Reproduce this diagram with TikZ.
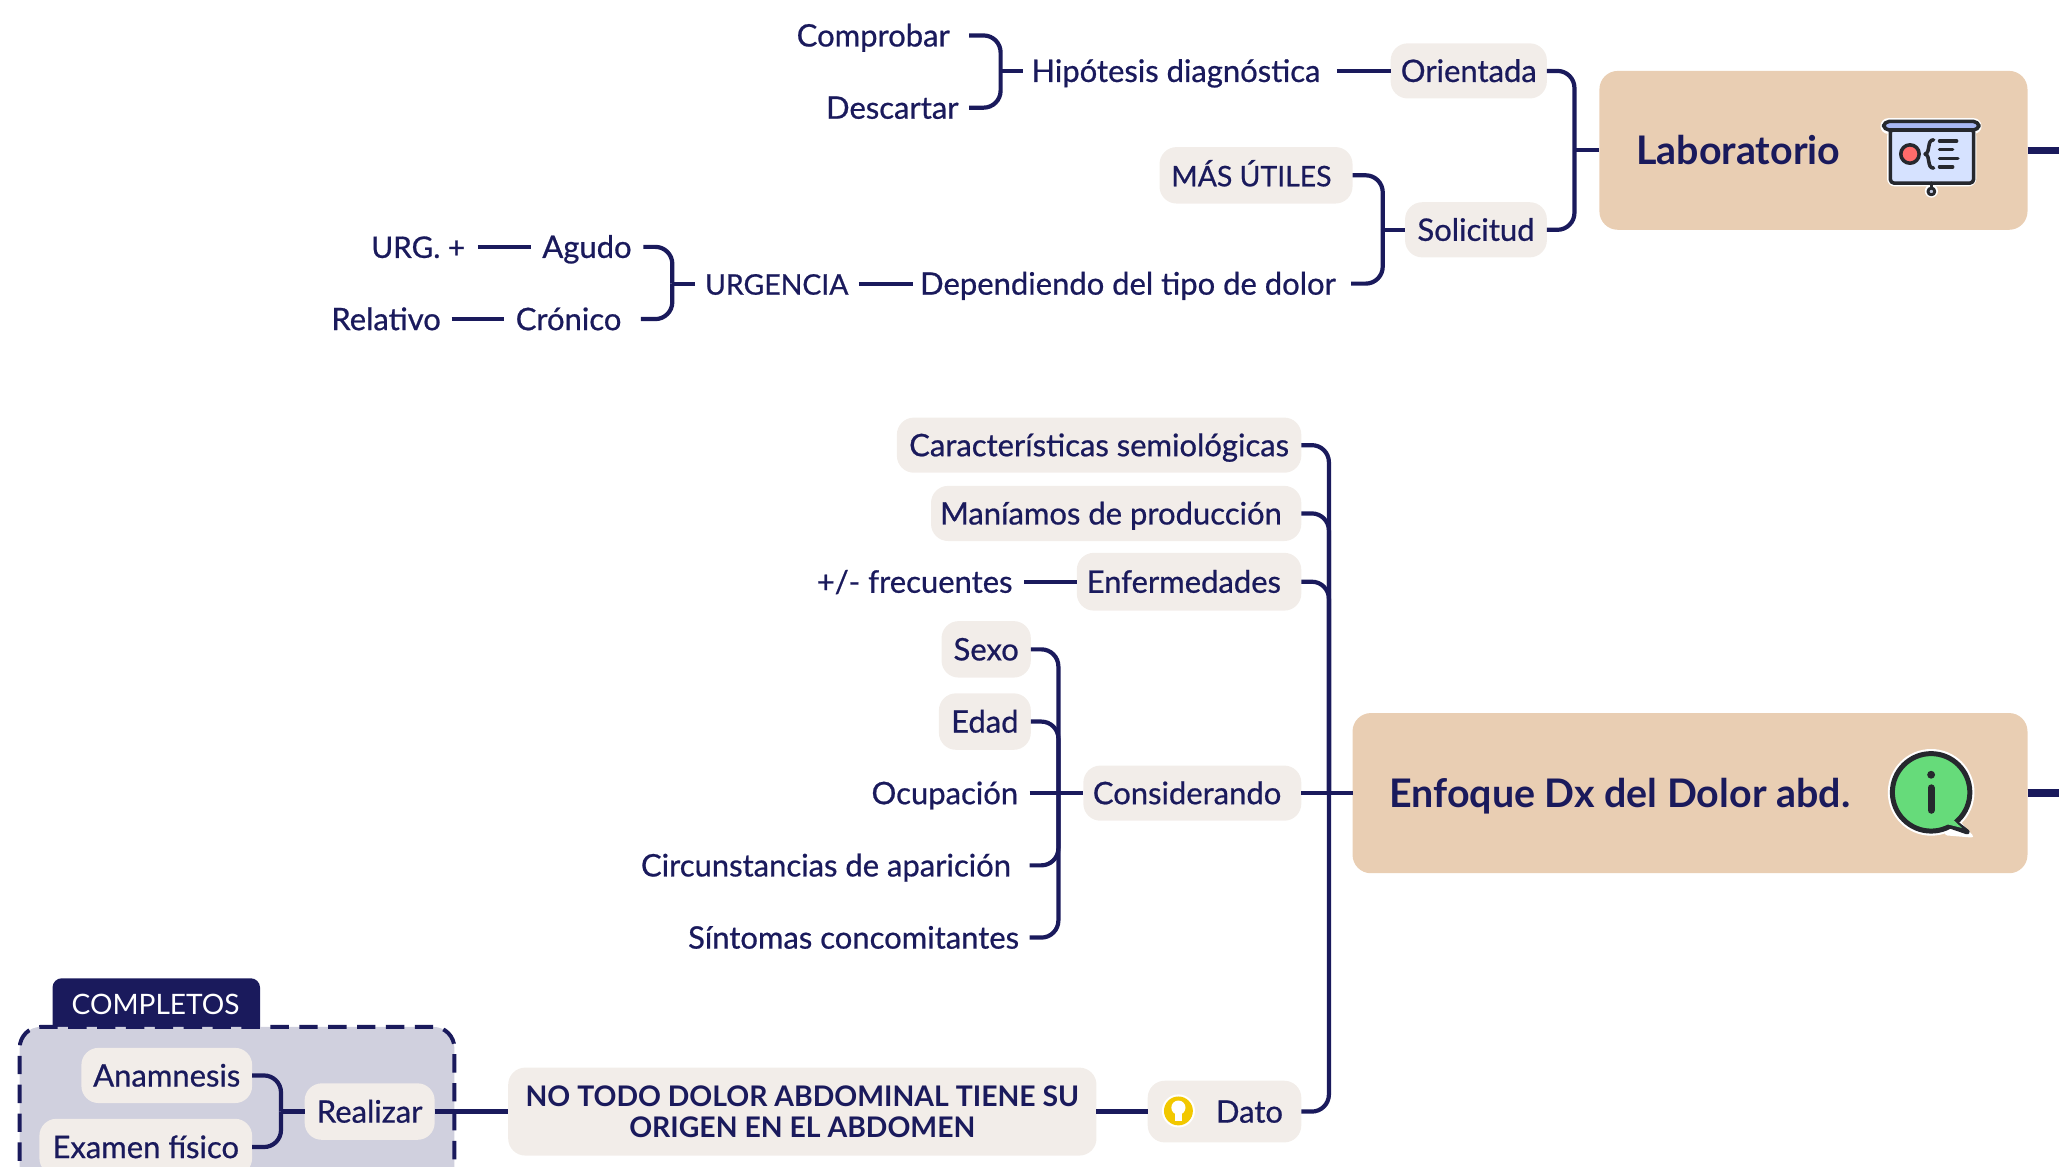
\documentclass[tikz,border=0pt]{standalone}
\usepackage{fontspec}
\setmainfont{Lato}
\newfontfamily\medfont{Lato}[FakeBold=0.7]
\newfontfamily\lightfont{Lato}
\definecolor{navy}{HTML}{1A1A5C}
\definecolor{pillc}{HTML}{F2EDE9}
\definecolor{tan}{HTML}{E9CEB3}
\definecolor{groupc}{HTML}{D0D0DE}
\definecolor{ink}{HTML}{26282E}
\definecolor{screenc}{HTML}{D6E2FF}
\definecolor{barc}{HTML}{A9B8F5}
\definecolor{knobc}{HTML}{BEC8E1}
\definecolor{redc}{HTML}{FF6B6B}
\definecolor{greenc}{HTML}{66DB7A}
\definecolor{yellowc}{HTML}{F2C800}
\newcommand{\bx}[7]{%
  \pgfmathsetmacro\bcx{(#3+#4)/2}\pgfmathsetmacro\bcy{(#5+#6)/2}%
  \pgfmathsetmacro\bw{(#4-#3)/2}\pgfmathsetmacro\bh{(#6-#5)/2}%
  \node[#2,minimum width=\bw pt,minimum height=\bh pt] (#1) at (\bcx,\bcy) {#7};}
\newcommand{\capsize}{\fontsize{10.8}{14}\medfont}
\tikzset{
  x=.5pt,y=-.5pt,
  base/.style={inner sep=0pt,outer sep=0pt,text=navy,font=\fontsize{11.8}{14}\medfont,text height=10pt,text depth=1.6pt,align=center},
  plain/.style={base},
  pill/.style={base,fill=pillc,rounded corners=6.5pt},
  mainbox/.style={base,fill=tan,rounded corners=7pt},
  maintext/.style={base,font=\fontsize{15}{18}\selectfont\bfseries,anchor=west},
  headline/.style={inner sep=0pt,outer sep=0pt,text=navy,align=center,fill=pillc,rounded corners=6.5pt,font=\fontsize{10.8}{12}\selectfont\bfseries},
  conn/.style={draw=navy,line width=1.6pt,rounded corners=6.5pt},
  thick stub/.style={draw=navy,line width=2.8pt},
  icon/.style={draw=ink,line width=1.35pt,line join=round,line cap=round}
}
\begin{document}
\begin{tikzpicture}
\useasboundingbox (0,0) rectangle (1568,888);
\clip (0,0) rectangle (1568,888);
% group
\fill[navy,rounded corners=3.5pt] (40,790) |- (198,745) -- (198,790) -- cycle;
\fill[groupc,rounded corners=8pt] (15,950) |- (346,782) -- (346,950) -- cycle;
\draw[navy,line width=1.5pt,dash pattern=on 7pt off 4pt,rounded corners=8pt] (15,950) |- (346,782) -- (346,950);
\node[inner sep=0pt,text=white,font=\fontsize{10.7}{14}\lightfont,text height=10pt,text depth=1.6pt] (compl) at (118.5,764) {COMPLETOS};
% main boxes
\bx{lab}{mainbox}{1218}{1544}{54}{175}{}
\bx{enf}{mainbox}{1030}{1544}{543}{665}{}
\node[maintext] (labt) at (1246,116.5) {Laboratorio};
\node[maintext] (enft) at (1058,606.5) {Enfoque Dx del Dolor abd.};
% upper branch
\bx{comp}{plain}{592}{738}{15}{39}{Comprobar}
\bx{desc}{plain}{621}{738}{70}{94}{Descartar}
\bx{hip}{plain}{779}{1012}{43}{65}{Hipótesis diagnóstica}
\bx{ori}{pill}{1059}{1178}{33}{75}{Orientada}
\bx{sol}{pill}{1070}{1178}{154}{196}{Solicitud}
\bx{mas}{pill}{883}{1030}{112}{155}{\capsize MÁS ÚTILES\hspace{3.5pt}}
\bx{dep}{plain}{695}{1023}{204}{228}{Dependiendo del tipo de dolor}
\bx{urg}{plain}{529}{654}{204}{228}{\capsize URGENCIA}
\bx{agu}{plain}{404}{490}{176}{200}{Agudo}
\bx{cro}{plain}{384}{482}{231}{255}{Crónico}
\bx{urp}{plain}{273}{364}{176}{200}{\fontsize{11.3}{14}\medfont URG. +}
\bx{rel}{plain}{244}{344}{231}{255}{Relativo}
% middle branch
\bx{car}{pill}{683}{991}{318}{360}{Características semiológicas}
\bx{man}{pill}{709}{991}{370}{412}{Maníamos de producción\hspace{4pt}}
\bx{enfm}{pill}{820}{991}{421}{465}{Enfermedades\hspace{4pt}}
\bx{fre}{plain}{613}{780}{431}{455}{+/- frecuentes}
\bx{con}{pill}{825}{991}{583}{625}{Considerando\hspace{4pt}}
\bx{sex}{pill}{717}{785}{473}{516}{Sexo}
\bx{eda}{pill}{715}{785}{528}{571}{Edad}
\bx{ocu}{plain}{655}{784}{592}{616}{Ocupación}
\bx{cir}{plain}{474}{784}{647}{671}{Circunstancias de aparición}
\bx{sin}{plain}{516}{784}{702}{726}{Síntomas concomitantes}
% lower branch
\bx{dat}{pill}{874}{991}{823}{870}{}
\node[base,anchor=west] (datt) at (926,846.5) {Dato};
\bx{not}{headline}{387}{835}{813}{880}{NO TODO DOLOR ABDOMINAL TIENE SU\hspace{3.5pt}\\ORIGEN EN EL ABDOMEN\hspace{3.5pt}}
\bx{rea}{pill}{232}{331}{825}{868}{Realizar}
\bx{ana}{pill}{62}{192}{798}{840}{Anamnesis}
\bx{exa}{pill}{30}{192}{852}{895}{Examen físico}
% junctions
\coordinate (j1) at (762,54);
\coordinate (j2) at (1199,114.5);
\coordinate (j3) at (1053,175);
\coordinate (j4) at (512,216);
\coordinate (j5) at (1012,604);
\coordinate (j6) at (806,604);
\coordinate (j7) at (214,846.5);
\coordinate (endlab) at (1568,114.5);
\coordinate (endenf) at (1568,604);
% connectors
\draw[conn] (comp.east) -| (j1) |- (desc.east);
\draw[conn] (j1) -- (hip.west);
\draw[conn,shorten <=3pt] (hip.east) -- (ori.west);
\draw[conn] (ori.east) -| (j2) |- (sol.east);
\draw[conn] (j2) -- (lab.west);
\draw[conn] (mas.east) -| (j3);
\draw[conn] (j3) |- ([xshift=3pt]dep.east);
\draw[conn] (j3) -- (sol.west);
\draw[conn] (agu.east) -| (j4);
\draw[conn] (j4) |- ([xshift=3pt]cro.east);
\draw[conn] (j4) -- (urg.west);
\draw[conn] (urg.east) -- (dep.west);
\draw[conn] (urp.east) -- (agu.west);
\draw[conn] (rel.east) -- (cro.west);
\draw[conn] (car.east) -| (j5);
\draw[conn] (man.east) -| (j5);
\draw[conn] (enfm.east) -| (j5);
\draw[conn] (dat.east) -| (j5);
\draw[conn] (con.east) -- (enf.west);
\draw[conn] (fre.east) -- (enfm.west);
\draw[conn] (sex.east) -| (j6);
\draw[conn] (eda.east) -| (j6);
\draw[conn] (ocu.east) -- (con.west);
\draw[conn] (cir.east) -| (j6);
\draw[conn] (sin.east) -| (j6);
\draw[conn] (not.east) -- (dat.west);
\draw[conn] (rea.east) -- (not.west);
\draw[conn] (ana.east) -| (j7);
\draw[conn] (exa.east) -| (j7);
\draw[conn] (j7) -- (rea.west);
\draw[thick stub] (lab.east) -- (endlab);
\draw[thick stub] (enf.east) -- (endenf);
% presentation icon
\fill[white,rounded corners=3pt] (1432,90) rectangle (1509,102);
\fill[white,rounded corners=3pt] (1437,98) rectangle (1505,142);
\fill[white] (1470.8,145.5) circle (5);
\draw[icon,fill=screenc,rounded corners=1.5pt] (1439.5,98) rectangle (1503,139.5);
\draw[icon,fill=barc,rounded corners=2pt] (1434.5,92.5) rectangle (1507,99);
\draw[icon] (1470.8,139.5) -- (1470.8,143);
\draw[icon,line width=1.1pt,fill=knobc] (1470.8,145.8) circle (2.6);
\draw[icon,fill=redc] (1454.5,117.3) circle (7);
\draw[icon] (1472.5,106.5) .. controls (1467,106.5) and (1470.5,116) .. (1466,117.3) .. controls (1470.5,118.6) and (1467,128) .. (1472.5,128);
\draw[icon] (1477,107.4) -- (1490,107.4) (1477,113.8) -- (1487,113.8) (1477,120.6) -- (1491,120.6) (1477,127) -- (1487,127);
% info icon
\fill[white] (1470.6,603.4) circle (33);
\fill[white,rounded corners=1.5pt] (1486,618) -- (1504,638) -- (1480,636) -- cycle;
\draw[ink,fill=greenc,line width=1.9pt,line join=round] (1486,624) -- (1498,633.5) -- (1482,628) -- cycle;
\draw[ink,fill=greenc,line width=1.9pt] (1470.6,603.4) circle (29.5);
\fill[greenc] (1485,622) -- (1494,630.5) -- (1480,627) -- cycle;
\fill[ink] (1470.6,590) circle (3);
\draw[ink,line width=2.7pt,line cap=round] (1470.6,600) -- (1470.6,617);
% bulb icon
\fill[white] (897.4,846) circle (12.6);
\fill[yellowc] (897.4,846) circle (11);
\fill[white] (897.4,843.5) circle (5.4);
\fill[white] (895,847) rectangle (900,853.5);
\end{tikzpicture}
\end{document}
